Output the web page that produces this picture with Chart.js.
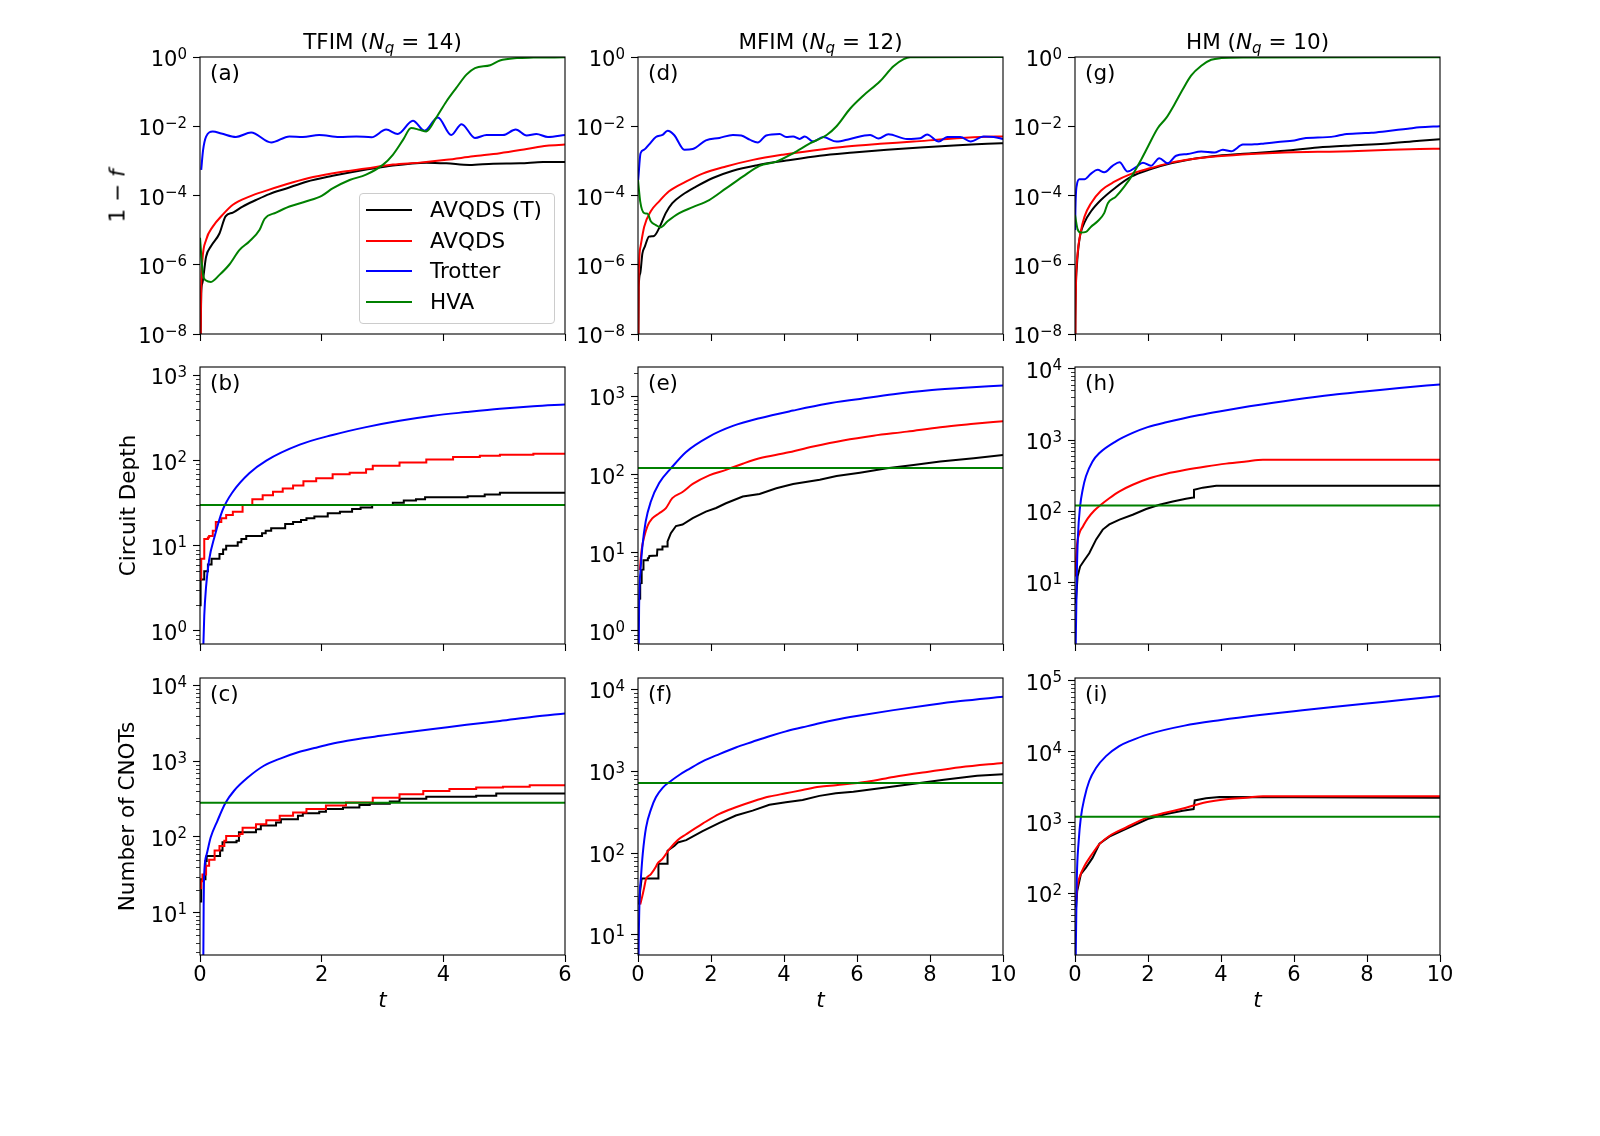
<!DOCTYPE html>
<html>
<head>
<meta charset="utf-8">
<script src="https://cdn.jsdelivr.net/npm/chart.js@4.4.1/dist/chart.umd.min.js"></script>
<style>
  body { margin: 0; background: #fff; width: 1600px; height: 1136px; position: relative; overflow: hidden; font-family: 'DejaVu Sans', sans-serif; color: #000; }
  canvas { position: absolute; }
  .coltitle { position: absolute; font-size: 21.5px; transform: translate(-50%, -50%); white-space: nowrap; }
  .coltitle sub { font-size: 0.7em; vertical-align: -0.3em; line-height: 0; }
  .ytitle { position: absolute; font-size: 21.5px; white-space: nowrap; transform: translate(-50%, -50%) rotate(-90deg); }
  #legend { position: absolute; left: 359px; top: 193px; width: 194px; height: 129px; border: 1px solid #cccccc; border-radius: 4px; background: rgba(255,255,255,0.8); z-index: 5; }
  .item { position: absolute; left: 0; height: 26px; font-size: 21.5px; line-height: 26px; }
  .item span.swatch { position: absolute; left: 6px; top: 12px; width: 46px; height: 2px; }
  .item span.txt { position: absolute; left: 70px; top: 0; white-space: nowrap; }
</style>
</head>
<body>
<script>
// ---- names, ticks ----
const seriesNames = ['AVQDS (T)', 'AVQDS', 'Trotter', 'HVA'];
const seriesColors = ['#000000', '#ff0000', '#0000ff', '#008000'];
const fidTicks = [1e-8, 1e-6, 1e-4, 1e-2, 1];
const depthTicksB = [1, 10, 100, 1000];
const depthTicksE = [1, 10, 100, 1000];
const depthTicksH = [10, 100, 1000, 10000];
const cnotTicksC = [10, 100, 1000, 10000];
const cnotTicksF = [10, 100, 1000, 10000];
const cnotTicksI = [100, 1000, 10000, 100000];

// ---- TFIM (Nq = 14): infidelity ----
const aBlack = [[0.005,1e-9],[0.02,1.5e-7],[0.04,3e-7],[0.1,1.7e-6],[0.18,3.4e-6],[0.32,8e-6],[0.42,2.5e-5],[0.54,3.2e-5],[0.7,4.8e-5],[0.92,7.4e-5],[1.14,1.1e-4],[1.42,1.6e-4],[1.75,2.5e-4],[2.18,3.7e-4],[2.62,5.2e-4],[3.06,6.9e-4],[3.72,8.9e-4],[4.05,8.5e-4],[4.43,7.6e-4],[4.82,8.3e-4],[5.26,8.5e-4],[5.64,9.3e-4],[6,9.3e-4]];
const aRed = [[0.005,1e-9],[0.02,2.3e-7],[0.04,1.4e-6],[0.1,5.2e-6],[0.21,1.26e-5],[0.37,2.75e-5],[0.54,5.4e-5],[0.81,9.3e-5],[1.09,1.38e-4],[1.53,2.4e-4],[1.86,3.4e-4],[2.29,4.7e-4],[2.73,6e-4],[3.17,7.8e-4],[3.61,8.9e-4],[4.05,1.07e-3],[4.49,1.35e-3],[4.93,1.66e-3],[5.37,2.2e-3],[5.7,2.75e-3],[6,2.95e-3]];
const aBlue = [[0.02,5.5e-4],[0.05,2e-3],[0.1,5e-3],[0.21,7e-3],[0.35,6.2e-3],[0.59,4.9e-3],[0.84,6.6e-3],[1.17,3.4e-3],[1.47,5.1e-3],[1.69,4.9e-3],[1.96,5.6e-3],[2.29,4.9e-3],[2.57,5.1e-3],[2.82,4.8e-3],[3.06,8e-3],[3.25,6e-3],[3.5,1.45e-2],[3.69,7.4e-3],[3.91,1.8e-2],[4.13,5.6e-3],[4.3,1.15e-2],[4.52,4.6e-3],[4.71,5.6e-3],[4.98,5.6e-3],[5.19,8e-3],[5.37,5.4e-3],[5.53,6e-3],[5.72,4.9e-3],[6,5.6e-3]];
const aGreen = [[0,6e-6],[0.05,5e-7],[0.1,3.5e-7],[0.18,3.2e-7],[0.32,5.1e-7],[0.48,1e-6],[0.65,2.7e-6],[0.81,4.7e-6],[0.98,1.02e-5],[1.06,2.1e-5],[1.25,3.2e-5],[1.47,4.8e-5],[1.75,6.8e-5],[2.0,9.8e-5],[2.18,1.6e-4],[2.46,2.8e-4],[2.73,4e-4],[3.01,7.8e-4],[3.17,1.5e-3],[3.34,4.1e-3],[3.47,8.9e-3],[3.61,7.9e-3],[3.72,7.1e-3],[3.88,1.74e-2],[4.05,5.2e-2],[4.21,0.126],[4.38,0.31],[4.52,0.48],[4.77,0.58],[4.93,0.79],[5.21,0.93],[5.48,0.96],[6,0.98]];

// ---- TFIM: circuit depth ----
const bBlack = [[0,2],[0.01,4],[0.07,5],[0.13,6],[0.19,7],[0.32,8],[0.38,9],[0.43,10],[0.62,11],[0.68,12],[0.76,13],[1.02,14],[1.08,15],[1.17,16],[1.4,18],[1.53,19],[1.66,20],[1.75,21],[1.88,22],[2.1,24],[2.3,25],[2.5,27],[2.64,28],[2.83,30],[3.17,32],[3.35,34],[3.55,35],[3.7,37],[4.4,38],[4.68,40],[4.93,42],[6,42]];
const bRed = [[0,4],[0.02,7],[0.07,12],[0.13,12.5],[0.15,13],[0.21,15],[0.26,19],[0.35,21],[0.43,23],[0.54,25],[0.7,30],[0.86,35],[1.03,39],[1.2,43],[1.36,47],[1.53,51],[1.7,57],[1.91,62],[2.18,69],[2.46,72],[2.73,79],[2.84,87],[3.28,95],[3.72,103],[4.16,110],[4.6,114],[4.93,117],[5.48,120],[6,120]];
const bBlue = [[0.05,0.5],[0.07,1.5],[0.1,3.3],[0.15,6.8],[0.24,12.8],[0.37,26],[0.54,43],[0.81,71],[1.09,100],[1.64,154],[2.18,200],[2.73,247],[3.28,293],[3.83,336],[4.38,371],[4.93,406],[5.48,435],[6,455]];
const bGreen = [[0,30],[6,30]];

// ---- TFIM: CNOT count ----
const cBlack = [[0,14],[0.02,27.6],[0.09,48],[0.11,56],[0.33,66],[0.37,85],[0.6,89],[0.64,115],[0.92,126],[1.0,141],[1.25,155],[1.33,171],[1.61,190],[1.69,205],[1.96,215],[2.07,233],[2.35,245],[2.62,263],[2.79,275],[3.12,294],[3.28,318],[3.72,340],[4.54,350],[4.87,375],[6,375]];
const cRed = [[0,21],[0.02,26],[0.04,32],[0.1,41.5],[0.15,50],[0.24,66],[0.32,76],[0.4,89],[0.43,103],[0.65,109],[0.7,132],[0.92,147],[1.09,166],[1.31,190],[1.53,210],[1.75,233],[2.07,259],[2.4,284],[2.84,330],[3.28,365],[3.67,405],[4.1,430],[4.54,450],[4.98,460],[5.42,480],[6,480]];
const cBlue = [[0.05,1.5],[0.055,2.8],[0.06,12],[0.066,29],[0.11,59],[0.175,98],[0.285,162],[0.42,282],[0.56,407],[0.78,603],[1.05,870],[1.33,1090],[1.6,1300],[1.88,1490],[2.15,1690],[2.42,1860],[2.7,2020],[2.97,2160],[3.25,2320],[3.83,2650],[4.38,3030],[4.93,3400],[5.48,3860],[6,4270]];
const cGreen = [[0,283],[6,283]];

// ---- MFIM (Nq = 12): infidelity ----
const dBlack = [[0.005,1e-9],[0.02,2.3e-7],[0.06,5.6e-7],[0.12,2.1e-6],[0.19,3.4e-6],[0.3,6.5e-6],[0.44,6.8e-6],[0.58,1.15e-5],[0.76,3.1e-5],[0.94,6e-5],[1.22,1.05e-4],[1.59,1.8e-4],[2.05,3.2e-4],[2.6,5.2e-4],[3.24,7.4e-4],[4.06,1.02e-3],[4.98,1.41e-3],[5.9,1.74e-3],[6.82,2.1e-3],[7.73,2.45e-3],[8.65,2.8e-3],[9.57,3.1e-3],[10,3.25e-3]];
const dRed = [[0.005,1e-9],[0.02,4.6e-7],[0.07,3.4e-6],[0.17,1.26e-5],[0.35,3.5e-5],[0.58,6.8e-5],[0.85,1.32e-4],[1.31,2.5e-4],[1.77,4.3e-4],[2.41,6.9e-4],[3.15,1.07e-3],[3.97,1.51e-3],[4.8,2e-3],[5.72,2.6e-3],[6.63,3.1e-3],[7.55,3.6e-3],[8.47,4.3e-3],[9.39,4.9e-3],[10,5.1e-3]];
const dBlue = [[0.005,2.8e-4],[0.07,1.66e-3],[0.17,2.1e-3],[0.3,2.95e-3],[0.49,4.9e-3],[0.67,5.6e-3],[0.81,7.4e-3],[0.99,5.6e-3],[1.27,2.1e-3],[1.5,2.2e-3],[1.86,3.9e-3],[2.23,4.6e-3],[2.6,5.6e-3],[2.83,5.4e-3],[3.06,4.1e-3],[3.28,3.4e-3],[3.51,5.4e-3],[3.88,6e-3],[4.06,4.9e-3],[4.25,5.1e-3],[4.43,4.3e-3],[4.57,5.1e-3],[4.8,3.6e-3],[5.07,4.9e-3],[5.44,3.6e-3],[5.81,4.3e-3],[6.36,5.6e-3],[6.59,4.4e-3],[6.86,5.9e-3],[7.37,4.3e-3],[7.73,4.5e-3],[7.92,5.8e-3],[8.24,3.6e-3],[8.47,4.9e-3],[8.83,4.9e-3],[9.11,3.6e-3],[9.47,5.1e-3],[9.75,4.9e-3],[10,4.3e-3]];
const dGreen = [[0,2.8e-4],[0.06,6.8e-5],[0.17,3.1e-5],[0.26,3e-5],[0.35,1.8e-5],[0.49,1.4e-5],[0.62,1.2e-5],[0.81,1.8e-5],[1.13,3.1e-5],[1.5,4.6e-5],[1.95,7.4e-5],[2.41,1.6e-4],[2.87,3.5e-4],[3.33,7.2e-4],[3.79,9.5e-4],[4.25,1.66e-3],[4.71,3.2e-3],[5.17,5.6e-3],[5.44,1e-2],[5.81,3.2e-2],[6.17,7.6e-2],[6.63,0.2],[7.0,0.54],[7.28,0.87],[7.46,0.99],[10,0.999]];

// ---- MFIM: circuit depth ----
const eBlack = [[0.03,2.5],[0.055,2.6],[0.06,4],[0.09,4.1],[0.1,6],[0.14,6.1],[0.15,8],[0.26,8],[0.27,8.5],[0.3,8.6],[0.31,9.1],[0.52,9.2],[0.53,11],[0.66,11],[0.67,12],[0.8,12],[0.81,14],[0.9,17.8],[1.04,22],[1.22,23],[1.5,27.7],[1.86,33.6],[2.14,37.4],[2.41,43],[2.87,52.5],[3.33,56.6],[3.79,67],[4.25,76],[4.98,86],[5.44,96],[6.08,106],[6.82,121],[7.55,133],[8.28,147],[9.2,162],[10,178]];
const eRed = [[0.05,6],[0.1,11],[0.17,16],[0.26,22],[0.39,27.5],[0.58,32],[0.76,37],[0.94,50],[1.22,60],[1.5,76],[1.95,98],[2.41,115],[2.87,138],[3.33,162],[4.06,190],[4.8,229],[5.62,274],[6.45,315],[7.37,355],[8.28,405],[9.2,447],[10,483]];
const eBlue = [[0.02,0.5],[0.03,2],[0.07,6],[0.12,12],[0.21,25],[0.35,45],[0.58,78],[0.9,120],[1.31,194],[1.95,307],[2.6,420],[3.33,527],[4.25,660],[5.17,807],[6.08,930],[7.0,1070],[7.92,1195],[8.83,1280],[10,1380]];
const eGreen = [[0,122],[10,122]];

// ---- MFIM: CNOT count ----
const fBlack = [[0.03,23.5],[0.06,35],[0.1,49],[0.55,49],[0.56,74],[0.8,74],[0.81,107],[1.0,123],[1.09,135],[1.32,144],[1.77,186],[2.23,234],[2.68,288],[3.14,330],[3.6,390],[4.05,417],[4.51,445],[4.97,500],[5.42,537],[5.9,561],[6.63,620],[7.46,694],[8.38,786],[9.29,880],[10,921]];
const fRed = [[0.06,23.5],[0.12,30],[0.17,38],[0.22,48],[0.35,55],[0.49,68],[0.53,74],[0.67,85],[0.86,112],[1.09,145],[1.32,170],[1.77,229],[2.23,302],[2.68,363],[3.14,427],[3.6,490],[4.05,537],[4.51,590],[4.97,645],[5.42,676],[6.27,744],[7.0,850],[7.92,981],[8.83,1120],[10,1265]];
const fBlue = [[0.005,1],[0.015,5],[0.04,25],[0.08,50],[0.13,98],[0.22,205],[0.36,347],[0.49,480],[0.68,632],[0.9,760],[1.13,900],[1.41,1070],[1.77,1320],[2.23,1620],[2.68,1950],[3.14,2290],[3.6,2680],[4.05,3070],[4.51,3440],[4.97,3850],[5.42,4250],[5.99,4720],[7.0,5580],[7.99,6450],[8.83,7200],[10,8130]];
const fGreen = [[0,720],[10,720]];

// ---- HM (Nq = 10): infidelity ----
const gBlack = [[0.005,1e-9],[0.01,2.5e-8],[0.05,8.7e-7],[0.12,5.2e-6],[0.26,1.66e-5],[0.44,3.5e-5],[0.71,7.4e-5],[1.08,1.6e-4],[1.54,3.5e-4],[2.08,5.8e-4],[2.63,8.5e-4],[3.18,1.12e-3],[3.91,1.41e-3],[4.83,1.66e-3],[5.74,1.95e-3],[6.65,2.45e-3],[7.57,2.8e-3],[8.48,3.1e-3],[9.44,3.8e-3],[10,4.2e-3]];
const gRed = [[0.005,1e-9],[0.01,1.3e-8],[0.03,3.6e-7],[0.07,2.1e-6],[0.15,8.1e-6],[0.26,2.45e-5],[0.44,6e-5],[0.71,1.38e-4],[1.08,2.5e-4],[1.54,4.2e-4],[2.08,6.2e-4],[2.63,8.9e-4],[3.18,1.12e-3],[3.91,1.35e-3],[4.83,1.58e-3],[5.74,1.74e-3],[6.65,1.82e-3],[7.57,1.9e-3],[8.48,2.05e-3],[9.44,2.2e-3],[10,2.25e-3]];
const gBlue = [[0.005,1e-5],[0.01,3.1e-5],[0.05,2e-4],[0.12,2.95e-4],[0.26,2.95e-4],[0.44,4.3e-4],[0.62,5.5e-4],[0.8,4.7e-4],[1.03,7.2e-4],[1.22,9.1e-4],[1.44,4.9e-4],[1.67,6.6e-4],[1.86,8.9e-4],[2.08,7.2e-4],[2.31,1.2e-3],[2.54,8.5e-4],[2.77,1.41e-3],[3.09,1.58e-3],[3.46,1.86e-3],[3.82,1.74e-3],[4.05,2.1e-3],[4.28,1.9e-3],[4.6,2.95e-3],[4.92,3e-3],[5.19,3.2e-3],[5.56,3.5e-3],[6.01,3.9e-3],[6.33,4.6e-3],[6.65,4.7e-3],[7.11,5.1e-3],[7.39,5.9e-3],[7.84,6.3e-3],[8.12,6.5e-3],[8.48,7.1e-3],[8.85,7.9e-3],[9.12,8.5e-3],[9.44,9.3e-3],[10,1e-2]];
const gGreen = [[0,2.75e-5],[0.07,1.07e-5],[0.16,8.5e-6],[0.3,8.9e-6],[0.44,1.26e-5],[0.62,1.8e-5],[0.8,3.1e-5],[0.9,6e-5],[1.12,9.3e-5],[1.35,1.8e-4],[1.58,4e-4],[1.81,1.07e-3],[2.0,2.6e-3],[2.27,8.9e-3],[2.5,1.74e-2],[2.72,4.2e-2],[2.95,0.115],[3.18,0.29],[3.46,0.56],[3.73,0.83],[4.0,0.93],[4.64,0.97],[10,0.98]];

// ---- HM: circuit depth ----
const hBlack = [[0.02,5],[0.05,8.3],[0.07,12],[0.14,16.6],[0.26,20.5],[0.39,25.5],[0.58,40],[0.76,55],[0.94,65],[1.22,76],[1.58,89],[1.95,107],[2.31,123],[2.68,137],[3.04,149],[3.24,155],[3.26,200],[3.5,214],[3.87,227],[10,227]];
const hRed = [[0.01,12],[0.02,16.6],[0.05,31.6],[0.12,49],[0.21,60],[0.35,79],[0.53,102],[0.71,123],[0.94,152],[1.22,190],[1.58,235],[2.04,290],[2.5,336],[3.04,382],[3.59,425],[4.14,466],[4.69,500],[5.15,528],[10,528]];
const hBlue = [[0.02,1.35],[0.05,13],[0.08,44],[0.14,117],[0.21,200],[0.3,309],[0.48,500],[0.67,658],[1.12,960],[1.58,1260],[1.99,1520],[2.5,1780],[3.41,2250],[3.99,2550],[4.78,2980],[6,3700],[7.07,4350],[8,4850],[8.89,5400],[10,6070]];
const hGreen = [[0,120],[10,120]];

// ---- HM: CNOT count ----
const iBlack = [[0.03,63],[0.06,107],[0.16,186],[0.3,230],[0.48,316],[0.67,500],[0.94,630],[1.4,810],[1.99,1120],[2.5,1320],[2.95,1470],[3.25,1550],[3.28,2050],[3.59,2200],[3.96,2290],[10,2240]];
const iRed = [[0.03,78],[0.06,120],[0.12,166],[0.26,243],[0.44,340],[0.67,495],[0.94,644],[1.4,850],[1.99,1180],[2.5,1380],[3.04,1620],[3.59,1930],[4.14,2130],[4.69,2240],[5.15,2350],[10,2350]];
const iBlue = [[0.02,13],[0.035,50],[0.05,163],[0.1,537],[0.16,1170],[0.26,2240],[0.39,3860],[0.58,5930],[0.85,8660],[1.21,12000],[1.5,14100],[2.0,17600],[3.0,23400],[4.0,28050],[5.0,32700],[6,37300],[7,42500],[8,48200],[9,54100],[10,61400]];
const iGreen = [[0,1210],[10,1210]];

// ---- layout ----
const colLeft = [200, 638, 1075];
const rowTop = [57, 367, 678];
const plotW = 365, plotH = 277;
const padL = 120, padT = 14, padR = 26;
const tMaxByCol = [6, 10, 10];
const FONT = "'DejaVu Sans', sans-serif";

// line mode per series: s = stepped, l = straight segments, m = smooth
const panels = [
  { label: '(a)', row: 0, col: 0, yMin: 1e-8, yMax: 1, yTicks: fidTicks, data: [aBlack, aRed, aBlue, aGreen], mode: 'mmmm' },
  { label: '(b)', row: 1, col: 0, yMin: 0.703, yMax: 1256, yTicks: depthTicksB, data: [bBlack, bRed, bBlue, bGreen], mode: 'ssml' },
  { label: '(c)', row: 2, col: 0, yMin: 2.76, yMax: 12530, yTicks: cnotTicksC, data: [cBlack, cRed, cBlue, cGreen], mode: 'ssml' },
  { label: '(d)', row: 0, col: 1, yMin: 1e-8, yMax: 1, yTicks: fidTicks, data: [dBlack, dRed, dBlue, dGreen], mode: 'mmmm' },
  { label: '(e)', row: 1, col: 1, yMin: 0.681, yMax: 2382, yTicks: depthTicksE, data: [eBlack, eRed, eBlue, eGreen], mode: 'lmml' },
  { label: '(f)', row: 2, col: 1, yMin: 5.69, yMax: 13770, yTicks: cnotTicksF, data: [fBlack, fRed, fBlue, fGreen], mode: 'lmml' },
  { label: '(g)', row: 0, col: 2, yMin: 1e-8, yMax: 1, yTicks: fidTicks, data: [gBlack, gRed, gBlue, gGreen], mode: 'mmmm' },
  { label: '(h)', row: 1, col: 2, yMin: 1.35, yMax: 10666, yTicks: depthTicksH, data: [hBlack, hRed, hBlue, hGreen], mode: 'lmml' },
  { label: '(i)', row: 2, col: 2, yMin: 13.4, yMax: 110200, yTicks: cnotTicksI, data: [iBlack, iRed, iBlue, iGreen], mode: 'lmml' }
];

// minor log ticks 2..9 x 10^n inside the axis range
function minorTicks(min, max) {
  const out = [];
  for (let e = Math.floor(Math.log10(min)); e <= Math.ceil(Math.log10(max)); e++) {
    for (let k = 2; k <= 9; k++) {
      const v = k * Math.pow(10, e);
      if (v > min && v < max) out.push(v);
    }
  }
  return out;
}

// frame, minor ticks, 10^n tick labels and panel letter
const framePlugin = {
  id: 'frame',
  afterDraw(chart, args, opts) {
    const { ctx, chartArea: a } = chart;
    const y = chart.scales.y;
    ctx.save();
    ctx.strokeStyle = '#000';
    ctx.lineWidth = 1.1;
    ctx.strokeRect(a.left, a.top, a.right - a.left, a.bottom - a.top);
    ctx.lineWidth = 0.8;
    opts.minor.forEach(v => {
      const py = Math.round(y.getPixelForValue(v)) + 0.5;
      ctx.beginPath();
      ctx.moveTo(a.left - 4, py);
      ctx.lineTo(a.left, py);
      ctx.stroke();
    });
    ctx.fillStyle = '#000';
    ctx.textAlign = 'left';
    ctx.textBaseline = 'alphabetic';
    y.ticks.forEach(t => {
      const py = y.getPixelForValue(t.value);
      const sup = String(Math.round(Math.log10(t.value))).replace('-', '\u2212');
      ctx.font = '21px ' + FONT;
      const wb = ctx.measureText('10').width;
      ctx.font = '15px ' + FONT;
      const ws = ctx.measureText(sup).width;
      const xr = a.left - 13;
      const bl = py + 9;
      ctx.font = '21px ' + FONT;
      ctx.fillText('10', xr - ws - wb, bl);
      ctx.font = '15px ' + FONT;
      ctx.fillText(sup, xr - ws, bl - 7.5);
    });
    ctx.font = '21.5px ' + FONT;
    ctx.textBaseline = 'middle';
    ctx.fillText(opts.label, a.left + 10, a.top + 17);
    ctx.restore();
  }
};

const yTitles = ['', 'Circuit Depth', 'Number of CNOTs'];
const yTitlePad = [0, 37, 36];

panels.forEach(p => {
  const padB = p.row === 2 ? 62 : 12;
  const cw = padL + plotW + padR;
  const ch = padT + plotH + padB;
  const cv = document.createElement('canvas');
  cv.width = cw;
  cv.height = ch;
  cv.style.width = cw + 'px';
  cv.style.height = ch + 'px';
  cv.style.left = (colLeft[p.col] - padL) + 'px';
  cv.style.top = (rowTop[p.row] - padT) + 'px';
  document.body.appendChild(cv);

  const datasets = p.data.map((d, i) => ({
    label: seriesNames[i],
    data: d,
    borderColor: seriesColors[i],
    backgroundColor: seriesColors[i],
    borderWidth: 2,
    pointRadius: 0,
    fill: false,
    stepped: p.mode[i] === 's',
    cubicInterpolationMode: p.mode[i] === 'm' ? 'monotone' : 'default',
    tension: 0,
    order: 3 - i
  }));

  const gridCfg = { display: true, drawOnChartArea: false, drawTicks: true, tickLength: 7, tickColor: '#000', tickWidth: 1.1 };

  new Chart(cv, {
    type: 'line',
    data: { datasets },
    options: {
      responsive: false,
      animation: false,
      events: [],
      layout: { padding: { left: 0, top: padT, right: padR, bottom: 0 } },
      plugins: {
        legend: { display: false },
        tooltip: { enabled: false },
        frame: { label: p.label, minor: p.row > 0 ? minorTicks(p.yMin, p.yMax) : [] }
      },
      scales: {
        x: {
          type: 'linear',
          min: 0,
          max: tMaxByCol[p.col],
          afterFit: s => { s.height = padB; s.paddingLeft = 0; s.paddingRight = 0; },
          ticks: { stepSize: 2, display: p.row === 2, padding: 1, color: '#000', font: { family: FONT, size: 21 } },
          grid: gridCfg,
          border: { display: false },
          title: { display: p.row === 2, text: 't', color: '#000', font: { family: FONT, size: 21.5, style: 'italic' }, padding: { top: 0, bottom: 3 } }
        },
        y: {
          type: 'logarithmic',
          min: p.yMin,
          max: p.yMax,
          afterBuildTicks: s => { s.ticks = p.yTicks.map(v => ({ value: v, major: true })); },
          afterFit: s => { s.width = padL; s.paddingTop = 0; s.paddingBottom = 0; },
          ticks: { display: false, autoSkip: false },
          grid: gridCfg,
          border: { display: false },
          title: { display: p.col === 0 && p.row > 0, text: yTitles[p.row], color: '#000', font: { family: FONT, size: 21.5 }, padding: { top: yTitlePad[p.row], bottom: 0 } }
        }
      }
    },
    plugins: [framePlugin]
  });
});

// column titles
const colTitles = [
  'TFIM (<i>N<sub>q</sub></i> = 14)',
  'MFIM (<i>N<sub>q</sub></i> = 12)',
  'HM (<i>N<sub>q</sub></i> = 10)'
];
colTitles.forEach((t, c) => {
  const d = document.createElement('div');
  d.className = 'coltitle';
  d.innerHTML = t;
  d.style.left = (colLeft[c] + plotW / 2) + 'px';
  d.style.top = '41px';
  document.body.appendChild(d);
});

// y label of the top row
const yt = document.createElement('div');
yt.className = 'ytitle';
yt.innerHTML = '1 \u2212 <i>f</i>';
yt.style.left = '117px';
yt.style.top = (rowTop[0] + plotH / 2) + 'px';
document.body.appendChild(yt);

// legend inside panel (a)
const leg = document.createElement('div');
leg.id = 'legend';
const legRowY = [16, 47, 77, 108];
seriesNames.forEach((n, i) => {
  const it = document.createElement('div');
  it.className = 'item';
  it.style.top = (legRowY[i] - 13) + 'px';
  it.innerHTML = '<span class="swatch" style="background:' + seriesColors[i] + '"></span><span class="txt">' + n + '</span>';
  leg.appendChild(it);
});
document.body.appendChild(leg);
</script>
</body>
</html>
